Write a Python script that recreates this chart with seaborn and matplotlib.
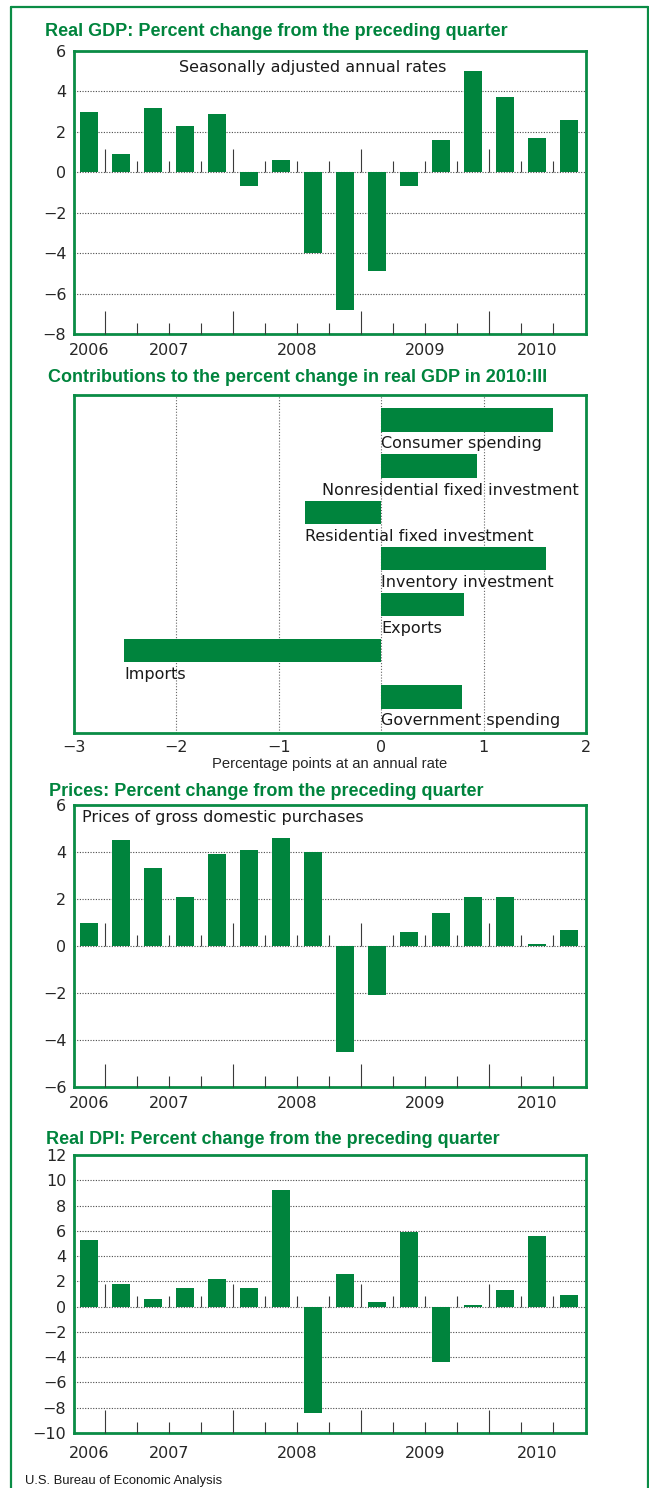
import numpy as np
import matplotlib
matplotlib.use("Agg")
import matplotlib.pyplot as plt
from matplotlib.lines import Line2D
import seaborn as sns

# ── data ──────────────────────────────────────────────────────────────────────
QUARTERS = [(2006, 4), (2007, 1), (2007, 2), (2007, 3), (2007, 4),
            (2008, 1), (2008, 2), (2008, 3), (2008, 4),
            (2009, 1), (2009, 2), (2009, 3), (2009, 4),
            (2010, 1), (2010, 2), (2010, 3)]
GDP = [3.0, 0.9, 3.2, 2.3, 2.9, -0.7, 0.6, -4.0, -6.8, -4.9, -0.7, 1.6, 5.0, 3.7, 1.7, 2.6]
PRICES = [1.0, 4.5, 3.3, 2.1, 3.9, 4.1, 4.6, 4.0, -4.5, -2.1, 0.6, 1.4, 2.1, 2.1, 0.1, 0.7]
DPI = [5.3, 1.8, 0.6, 1.5, 2.2, 1.5, 9.2, -8.4, 2.6, 0.4, 5.9, -4.4, 0.1, 1.3, 5.6, 0.9]

CONTRIB_LABELS = ["Consumer spending", "Nonresidential fixed investment",
                  "Residential fixed investment", "Inventory investment",
                  "Exports", "Imports", "Government spending"]
CONTRIB = [1.68, 0.94, -0.74, 1.61, 0.81, -2.51, 0.79]

TITLES = ["Real GDP: Percent change from the preceding quarter",
          "Contributions to the percent change in real GDP in 2010:III",
          "Prices: Percent change from the preceding quarter",
          "Real DPI: Percent change from the preceding quarter"]

# ── style ─────────────────────────────────────────────────────────────────────
GREEN = "#00843D"
FRAME = "#0A8C45"
TICKC = "#3a3a3a"
W, H = 649, 1488
sns.set_theme(style="white")
plt.rcParams["font.family"] = ["DejaVu Sans"]
NARROW = ["Liberation Sans Narrow", "DejaVu Sans Condensed", "Liberation Sans"]
FS = 11.5

fig = plt.figure(figsize=(W / 100, H / 100), dpi=100)


def px_axes(left, top, right, bottom):
    return fig.add_axes([left / W, 1 - bottom / H, (right - left) / W, (bottom - top) / H])


def style_frame(ax):
    for s in ax.spines.values():
        s.set_color(FRAME)
        s.set_linewidth(2.0)
        s.set_visible(True)
    ax.set_axisbelow(True)


def quarter_panel(ax, vals, ylim, ystep, year_pad):
    n = len(vals)
    sns.barplot(x=list(range(n)), y=vals, color=GREEN, saturation=1,
                width=0.56, linewidth=0, ax=ax)
    ax.set_xlim(-0.48, n - 0.47)
    ax.set_ylim(*ylim)
    yt = np.arange(ylim[0], ylim[1] + 0.01, ystep)
    ax.set_yticks(yt)
    ax.set_yticklabels([f"{v:g}".replace("-", "\u2212") for v in yt], fontsize=FS)
    ax.yaxis.grid(True, ls=(0, (1, 1.4)), color="#4a4a4a", lw=0.8)
    ax.xaxis.grid(False)
    # year labels centred under their quarters
    years = sorted({q[0] for q in QUARTERS})
    centres = [np.mean([i for i, q in enumerate(QUARTERS) if q[0] == y]) for y in years]
    ax.set_xticks(centres)
    ax.set_xticklabels([str(y) for y in years], fontsize=FS)
    ax.tick_params(axis="both", length=0)
    ax.tick_params(axis="x", pad=year_pad)
    ax.tick_params(axis="y", pad=5.5)
    ax.set_xlabel("")
    ax.set_ylabel("")
    # quarter boundary ticks at the bottom and on the zero line
    bnd = [i + 0.5 for i in range(n - 1)]
    long_b = [b for b, q in zip(bnd, QUARTERS[1:]) if q[1] == 1]
    short_b = [b for b, q in zip(bnd, QUARTERS[1:]) if q[1] != 1]
    for yy in (ylim[0], 0):
        ax.plot(long_b, [yy] * len(long_b), ls="none", marker=2, ms=16.6,
                mew=0.8, color=TICKC, clip_on=False, zorder=3)
        ax.plot(short_b, [yy] * len(short_b), ls="none", marker=2, ms=7.9,
                mew=0.8, color=TICKC, clip_on=False, zorder=3)
    style_frame(ax)


# ── panel 1: real GDP ─────────────────────────────────────────────────────────
ax1 = px_axes(74, 51, 586, 334)
quarter_panel(ax1, GDP, (-8, 6), 2, 6.5)
ax1.text(0.467, 0.943, "Seasonally adjusted annual rates", transform=ax1.transAxes,
         ha="center", va="center", fontsize=FS, color="#1a1a1a")

# ── panel 2: contributions ────────────────────────────────────────────────────
ax2 = px_axes(74, 395, 586, 733)
sns.barplot(x=CONTRIB, y=CONTRIB_LABELS, orient="h", color=GREEN, saturation=1,
            width=0.505, linewidth=0, ax=ax2)
ax2.set_xlim(-3, 2)
ax2.set_ylim(6.78, -0.54)
ax2.set_xticks(range(-3, 3))
ax2.set_xticklabels([f"{v}".replace("-", "\u2212") for v in range(-3, 3)], fontsize=FS)
ax2.set_yticks([])
ax2.xaxis.grid(True, ls=(0, (1, 1.6)), color="#666666", lw=0.8)
ax2.yaxis.grid(False)
ax2.tick_params(axis="x", length=0, pad=5)
ax2.set_ylabel("")
ax2.set_xlabel("Percentage points at an annual rate", family=NARROW, fontsize=10.6,
               labelpad=1.5)
for i, (lab, v) in enumerate(zip(CONTRIB_LABELS, CONTRIB)):
    if lab.startswith("Nonres"):
        x, ha = 1.93, "right"
    else:
        x, ha = min(0, v), "left"
    ax2.text(x, i + 0.52, lab, ha=ha, va="center", fontsize=FS, color="#1a1a1a")
style_frame(ax2)

# ── panel 3: prices ───────────────────────────────────────────────────────────
ax3 = px_axes(74, 805, 586, 1087)
quarter_panel(ax3, PRICES, (-6, 6), 2, 6.5)
ax3.text(0.016, 0.954, "Prices of gross domestic purchases", transform=ax3.transAxes,
         ha="left", va="center", fontsize=FS, color="#1a1a1a")

# ── panel 4: real DPI ─────────────────────────────────────────────────────────
ax4 = px_axes(74, 1155, 586, 1433)
quarter_panel(ax4, DPI, (-10, 12), 2, 9)

# ── titles, outer frame, source ───────────────────────────────────────────────
for (x, y), t in zip([(45, 32), (47.5, 377), (49, 792), (46, 1139)], TITLES):
    fig.text(x / W, 1 - y / H, t, ha="left", va="center", color=GREEN,
             fontsize=13.0, fontweight="bold", family=NARROW)

fig.add_artist(Line2D([11 / W, 11 / W], [0, 1 - 7 / H], color=FRAME, lw=1.6))
fig.add_artist(Line2D([11 / W, 647.5 / W], [1 - 7 / H, 1 - 7 / H], color=FRAME, lw=1.6))
fig.add_artist(Line2D([647.5 / W, 647.5 / W], [0, 1 - 7 / H], color=FRAME, lw=1.6))
fig.text(25 / W, 1 - 1481 / H, "U.S. Bureau of Economic Analysis", ha="left",
         va="center", fontsize=9.4, family=["Liberation Sans", "DejaVu Sans"],
         color="#1a1a1a")

fig.savefig("out.png", dpi=100)
